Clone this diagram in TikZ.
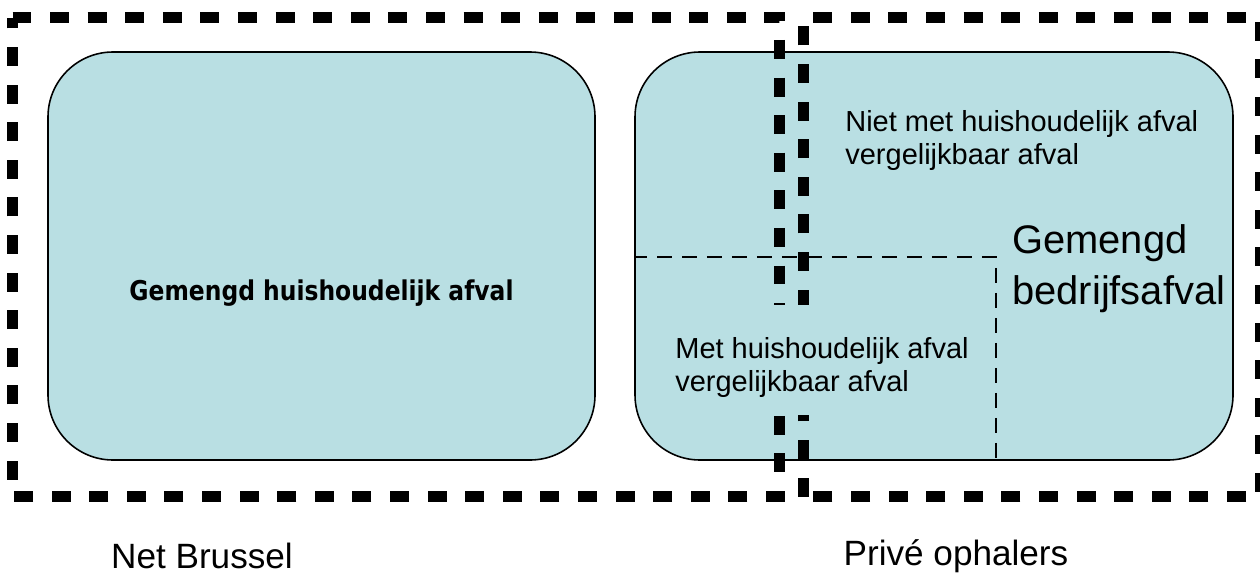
\documentclass[tikz,border=0pt]{standalone}
\usepackage{fontspec}
\setmainfont{Liberation Sans}
\newfontfamily\boldboxfont[FakeStretch=0.86]{DejaVu Sans}
\definecolor{boxfill}{RGB}{185,223,227}
\tikzset{
  region/.style={line width=6.2pt, dash pattern=on 0.38cm off 0.372cm},
  wastebox/.style={draw=black, line width=0.9pt, fill=boxfill, rounded corners=1.3cm},
  splitline/.style={line width=0.7pt, dash pattern=on 0.3cm off 0.2cm, dash phase=0.06cm},
  label/.style={inner sep=0pt, align=left},
}
\begin{document}
\begin{tikzpicture}[x=0.02cm, y=-0.02cm]
    \useasboundingbox (0,0) rectangle (1260,575);
    % afvalsoorten
    \draw[wastebox] (48,52) rectangle (595,460);
    \draw[wastebox] (635,52) rectangle (1233,460);
    \draw[splitline] (635,257) -- (996,257) -- (996,460);
    % ophalers
    \draw[region] (12.5,17.5) -- (779.5,17.5) -- (779.5,496.5) -- (12.5,496.5) -- cycle;
    \draw[region] (803.5,496.5) -- (803.5,17.5) -- (1260,17.5) -- (1260,496.5) -- cycle;
    % tekstvak over de stippellijnen
    \fill[boxfill] (665,305) rectangle (985,415);
    \node[label, anchor=base, font=\boldboxfont\bfseries\fontsize{15.5pt}{18pt}\selectfont] (huis) at (321.5,300) {Gemengd huishoudelijk afval};
    \node[label, anchor=north west, font=\fontsize{16.5pt}{19pt}\selectfont] (nietvgl) at (845,110) {Niet met huishoudelijk afval\\vergelijkbaar afval};
    \node[label, anchor=north west, font=\fontsize{16.5pt}{19pt}\selectfont] (metvgl) at (675,337) {Met huishoudelijk afval\\vergelijkbaar afval};
    \node[label, anchor=north west, font=\fontsize{22.7pt}{29pt}\selectfont] (bedrijf) at (1012,224) {Gemengd\\bedrijfsafval};
    \node[label, anchor=base, font=\fontsize{20pt}{24pt}\selectfont] (netbrussel) at (202,568) {Net Brussel};
    \node[label, anchor=base, font=\fontsize{20pt}{24pt}\selectfont] (prive) at (956,565) {Privé ophalers};
\end{tikzpicture}
\end{document}
